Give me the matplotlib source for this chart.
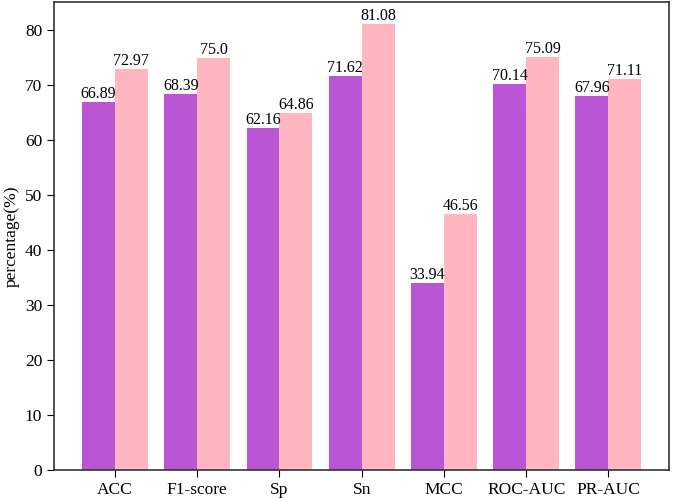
import matplotlib
matplotlib.use("Agg")
import matplotlib.pyplot as plt
import numpy as np

plt.rcParams['font.family'] = ['Liberation Serif', 'DejaVu Serif']

categories = ["ACC", "F1-score", "Sp", "Sn", "MCC", "ROC-AUC", "PR-AUC"]
series_a = [66.89, 68.39, 62.16, 71.62, 33.94, 70.14, 67.96]
series_b = [72.97, 75.0, 64.86, 81.08, 46.56, 75.09, 71.11]

fig = plt.figure(figsize=(6.85, 4.99), dpi=100)
ax = fig.add_axes([0.079, 0.058, 0.898, 0.938])
x = np.arange(len(categories))
w = 0.4
ba = ax.bar(x - w/2, series_a, w, color="#BA55D3")
bb = ax.bar(x + w/2, series_b, w, color="#FFB6C1")
for bars, vals in ((ba, series_a), (bb, series_b)):
    for r, v in zip(bars, vals):
        ax.text(r.get_x() + r.get_width()/2, v, str(v), ha="center", va="bottom", fontsize=11.5)
ax.set_xticks(x)
ax.set_xticklabels(categories, fontsize=12.5)
ax.tick_params(axis="y", labelsize=12.5)
ax.tick_params(length=5)
ax.set_ylabel("percentage(%)", fontsize=12.5)
for s in ax.spines.values():
    s.set_linewidth(1.2)
    s.set_color("#333333")
fig.savefig("out.png", dpi=100)
